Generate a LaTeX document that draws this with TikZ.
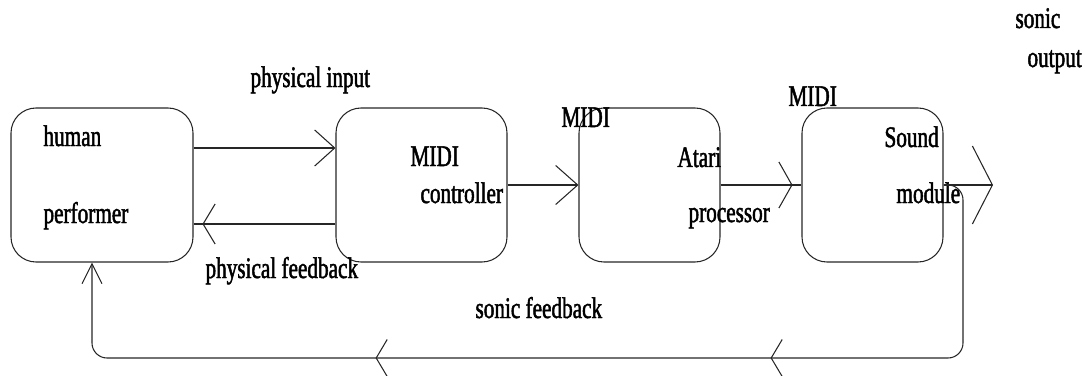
\documentclass[tikz,border=0pt]{standalone}
\usepackage{fontspec}
\setmainfont[FakeStretch=0.71,FakeBold=1.6]{Liberation Serif}
\usetikzlibrary{arrows.meta,decorations.markings}

\begin{document}
\begin{tikzpicture}[line width=0.6pt, black!85,
  box/.style={draw, rounded corners=0.5cm, minimum width=#1, minimum height=3.08cm, inner sep=0pt},
  lbl/.style={anchor=base west, inner sep=0pt, text=black, font=\fontsize{17}{20}\selectfont},
  barb/.style 2 args={-{Straight Barb[length=#1, width=#2]}},
  tipat/.style n args={3}{postaction={decorate, decoration={markings, mark=at position #1 with {\arrow{Straight Barb[length=#2, width=#3]}}}}}]

\useasboundingbox (0, 0) rectangle (21.7, 7.5);

\draw (2.04, 3.80) node[box=3.64cm] (human){};
\draw (8.43, 3.80) node[box=3.42cm] (ctrl){};
\draw (12.99, 3.80) node[box=2.82cm] (atari){};
\draw (17.45, 3.80) node[box=2.82cm] (sound){};

\coordinate (out) at (19.86, 3.80);
\coordinate (fbr) at (19.26, 0.34);

\draw (0.86, 4.58) node[lbl] (t1){human};
\draw (0.86, 3.04) node[lbl] (t2){performer};

\draw (8.20, 4.18) node[lbl] (t3){MIDI};
\draw (8.40, 3.44) node[lbl] (t4){controller};

\draw (11.22, 4.96) node[lbl] (t5){MIDI};
\draw (13.54, 4.16) node[lbl] (t6){Atari};
\draw (13.76, 3.06) node[lbl] (t7){processor};

\draw (15.76, 5.38) node[lbl] (t8){MIDI};
\draw (17.68, 4.56) node[lbl] (t9){Sound};
\draw (17.92, 3.44) node[lbl] (t10){module};

\draw (20.30, 6.94) node[lbl] (t11){sonic};
\draw (20.54, 6.16) node[lbl] (t12){output};

\draw (5.00, 5.76) node[lbl] (t13){physical input};
\draw (4.10, 1.94) node[lbl] (t14){physical feedback};
\draw (9.50, 1.14) node[lbl] (t15){sonic feedback};

\draw[barb={0.4cm}{0.72cm}] ([yshift=0.74cm]human.east) -- ([yshift=0.74cm]ctrl.west);
\draw[tipat={2.66cm}{0.24cm}{0.8cm}] ([yshift=-0.78cm]ctrl.west) -- ([yshift=-0.78cm]human.east);

\draw[barb={0.44cm}{0.78cm}] (ctrl.east) -- (atari.west);
\draw[tipat={1.44cm}{0.26cm}{0.92cm}] (atari.east) -- (sound.west);
\draw[barb={0.4cm}{1.56cm}] (sound.east) -- (out);

\draw[rounded corners=0.3cm, barb={0.4cm}{0.4cm},
  tipat={7.44cm}{0.22cm}{0.74cm}, tipat={15.34cm}{0.22cm}{0.74cm}]
  (sound.east) -| (fbr) -| ([xshift=-0.2cm]human.south);

\end{tikzpicture}
\end{document}
